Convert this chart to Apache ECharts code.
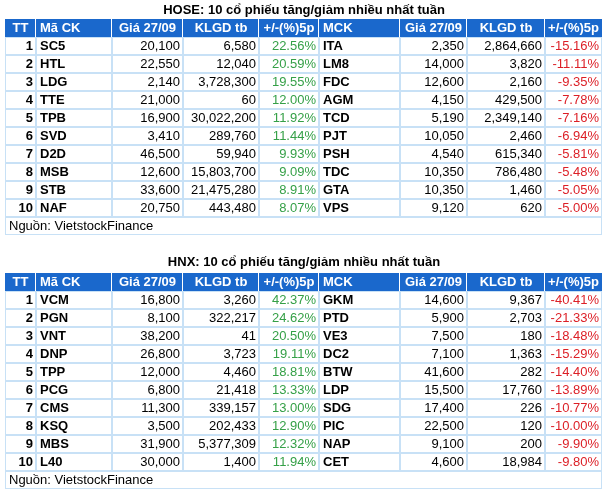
<!DOCTYPE html>
<html>
<head>
<meta charset="utf-8">
<style>html,body{margin:0;padding:0;background:#fff;}#c{width:608px;height:495px;}</style>
<script src="https://cdn.jsdelivr.net/npm/echarts@6/dist/echarts.min.js"></script>
</head>
<body>
<div id="c"></div>
<script>
// ---------- DATA ----------
const headers = ['TT', 'Mã CK', 'Giá 27/09', 'KLGD tb', '+/-(%)5p', 'MCK', 'Giá 27/09', 'KLGD tb', '+/-(%)5p'];
const ranks = [1, 2, 3, 4, 5, 6, 7, 8, 9, 10];
const sourceText = 'Nguồn: VietstockFinance';
const hoseTitle = 'HOSE: 10 cổ phiếu tăng/giảm nhiều nhất tuần';
const hnxTitle = 'HNX: 10 cổ phiếu tăng/giảm nhiều nhất tuần';

const hoseUpCodes = ['SC5', 'HTL', 'LDG', 'TTE', 'TPB', 'SVD', 'D2D', 'MSB', 'STB', 'NAF'];
const hoseUpPrices = [20100, 22550, 2140, 21000, 16900, 3410, 46500, 12600, 33600, 20750];
const hoseUpVolumes = [6580, 12040, 3728300, 60, 30022200, 289760, 59940, 15803700, 21475280, 443480];
const hoseUpChanges = [22.56, 20.59, 19.55, 12.00, 11.92, 11.44, 9.93, 9.09, 8.91, 8.07];

const hoseDownCodes = ['ITA', 'LM8', 'FDC', 'AGM', 'TCD', 'PJT', 'PSH', 'TDC', 'GTA', 'VPS'];
const hoseDownPrices = [2350, 14000, 12600, 4150, 5190, 10050, 4540, 10350, 10350, 9120];
const hoseDownVolumes = [2864660, 3820, 2160, 429500, 2349140, 2460, 615340, 786480, 1460, 620];
const hoseDownChanges = [-15.16, -11.11, -9.35, -7.78, -7.16, -6.94, -5.81, -5.48, -5.05, -5.00];

const hnxUpCodes = ['VCM', 'PGN', 'VNT', 'DNP', 'TPP', 'PCG', 'CMS', 'KSQ', 'MBS', 'L40'];
const hnxUpPrices = [16800, 8100, 38200, 26800, 12000, 6800, 11300, 3500, 31900, 30000];
const hnxUpVolumes = [3260, 322217, 41, 3723, 4460, 21418, 339157, 202433, 5377309, 1400];
const hnxUpChanges = [42.37, 24.62, 20.50, 19.11, 18.81, 13.33, 13.00, 12.90, 12.32, 11.94];

const hnxDownCodes = ['GKM', 'PTD', 'VE3', 'DC2', 'BTW', 'LDP', 'SDG', 'PIC', 'NAP', 'CET'];
const hnxDownPrices = [14600, 5900, 7500, 7100, 41600, 15500, 17400, 22500, 9100, 4600];
const hnxDownVolumes = [9367, 2703, 180, 1363, 282, 17760, 226, 120, 200, 18984];
const hnxDownChanges = [-40.41, -21.33, -18.48, -15.29, -14.40, -13.89, -10.77, -10.00, -9.90, -9.80];

// ---------- LAYOUT / STYLE ----------
const colEdges = [0, 31, 107, 178, 254, 314, 395, 462, 540, 597];
const headerAlign = ['center', 'left', 'center', 'center', 'center', 'left', 'center', 'center', 'center'];
const bodyAlign = ['right', 'left', 'right', 'right', 'right', 'left', 'right', 'right', 'right'];
const bodyBold = [true, true, false, false, false, true, false, false, false];
const FONT = '"Liberation Sans", Arial, sans-serif';
const HEADER_BG = '#1a68cc';
const GRID_LINE = '#c8e1f6';
const GREEN = '#35a047';
const RED = '#dc1f26';
const NROWS = 12;

const fmtNum = v => v.toLocaleString('en-US');
const fmtPct = v => v.toFixed(2) + '%';

function buildCells(up, down) {
  const cells = [];
  headers.forEach((h, c) => cells.push({ c0: c, c1: c + 1, r: 0, text: h, kind: 'header', align: headerAlign[c] }));
  ranks.forEach((rank, i) => {
    const r = i + 1;
    const vals = [
      { t: String(rank) },
      { t: up.codes[i] },
      { t: fmtNum(up.prices[i]) },
      { t: fmtNum(up.volumes[i]) },
      { t: fmtPct(up.changes[i]), color: up.changes[i] >= 0 ? GREEN : RED },
      { t: down.codes[i] },
      { t: fmtNum(down.prices[i]) },
      { t: fmtNum(down.volumes[i]) },
      { t: fmtPct(down.changes[i]), color: down.changes[i] >= 0 ? GREEN : RED }
    ];
    vals.forEach((v, c) => cells.push({ c0: c, c1: c + 1, r, text: v.t, kind: 'body', align: bodyAlign[c], bold: bodyBold[c], color: v.color || '#000' }));
  });
  cells.push({ c0: 0, c1: 9, r: 11, text: sourceText, kind: 'body', align: 'left', bold: false, color: '#000' });
  return cells;
}

const tables = [
  buildCells(
    { codes: hoseUpCodes, prices: hoseUpPrices, volumes: hoseUpVolumes, changes: hoseUpChanges },
    { codes: hoseDownCodes, prices: hoseDownPrices, volumes: hoseDownVolumes, changes: hoseDownChanges }),
  buildCells(
    { codes: hnxUpCodes, prices: hnxUpPrices, volumes: hnxUpVolumes, changes: hnxUpChanges },
    { codes: hnxDownCodes, prices: hnxDownPrices, volumes: hnxDownVolumes, changes: hnxDownChanges })
];

function makeRender(cells) {
  return function (params, api) {
    const cell = cells[params.dataIndex];
    const p0 = api.coord([colEdges[cell.c0], cell.r]);
    const p1 = api.coord([colEdges[cell.c1], cell.r + 1]);
    const x0 = Math.round(p0[0]), x1 = Math.round(p1[0]);
    const y0 = Math.round(Math.min(p0[1], p1[1])), y1 = Math.round(Math.max(p0[1], p1[1]));
    const children = [];
    let tx;
    if (cell.align === 'left') tx = x0 + 4;
    else if (cell.align === 'right') tx = x1 - 3;
    else tx = (x0 + x1) / 2;
    const ty = (y0 + y1) / 2 + 0.5;
    if (cell.kind === 'header') {
      children.push({ type: 'rect', shape: { x: x0, y: y0, width: x1 - x0, height: y1 - y0 }, style: { fill: HEADER_BG } });
      if (cell.c0 > 0) children.push({ type: 'rect', shape: { x: x0 - 1, y: y0, width: 1, height: y1 - y0 }, style: { fill: '#ffffff' } });
      children.push({ type: 'text', style: { text: cell.text, x: tx, y: ty, fill: '#ffffff', font: 'bold 13px ' + FONT, align: cell.align, verticalAlign: 'middle', textAlign: cell.align, textVerticalAlign: 'middle' } });
    } else {
      children.push({ type: 'rect', shape: { x: x0, y: y0, width: x1 - x0, height: y1 - y0 }, style: { fill: GRID_LINE } });
      children.push({ type: 'rect', shape: { x: x0 + 1, y: y0 + 1, width: x1 - x0 - 2, height: y1 - y0 - 2 }, style: { fill: '#ffffff' } });
      children.push({ type: 'text', style: { text: cell.text, x: tx, y: ty, fill: cell.color, font: (cell.bold ? 'bold ' : '') + '13px ' + FONT, align: cell.align, verticalAlign: 'middle', textAlign: cell.align, textVerticalAlign: 'middle' } });
    }
    return { type: 'group', children };
  };
}

const gridTops = [19, 273];
const option = {
  animation: false,
  backgroundColor: '#ffffff',
  title: [
    { text: hoseTitle, left: 'center', top: 4, padding: 0, textStyle: { fontSize: 13, fontWeight: 'bold', color: '#000', fontFamily: FONT } },
    { text: hnxTitle, left: 'center', top: 256, padding: 0, textStyle: { fontSize: 13, fontWeight: 'bold', color: '#000', fontFamily: FONT } }
  ],
  grid: gridTops.map(t => ({ left: 5, top: t, width: 597, height: 216 })),
  xAxis: gridTops.map((t, i) => ({ type: 'value', gridIndex: i, min: 0, max: 597, show: false })),
  yAxis: gridTops.map((t, i) => ({ type: 'value', gridIndex: i, min: 0, max: NROWS, inverse: true, show: false })),
  series: tables.map((cells, i) => ({
    type: 'custom',
    xAxisIndex: i,
    yAxisIndex: i,
    clip: false,
    silent: true,
    renderItem: makeRender(cells),
    data: cells.map(cell => [colEdges[cell.c0], cell.r])
  }))
};

const chart = echarts.init(document.getElementById('c'), null, { renderer: 'canvas' });
chart.setOption(option);
</script>
</body>
</html>
